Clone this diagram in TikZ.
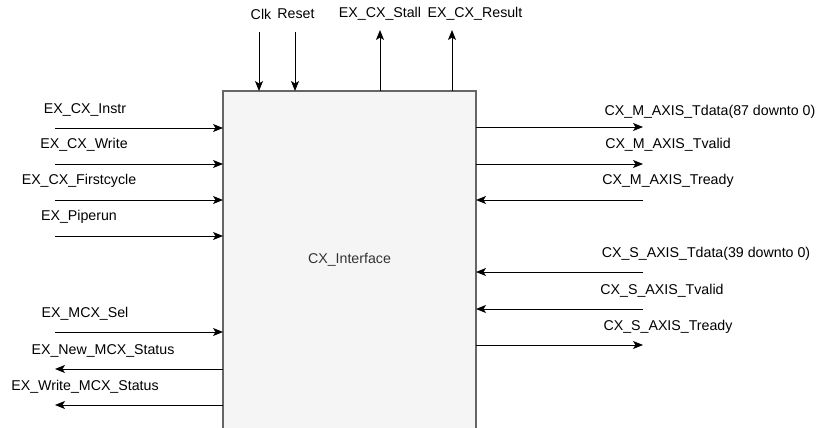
\documentclass[tikz,border=0pt]{standalone}
\usepackage{fontspec}
\setmainfont{Liberation Sans}
\usetikzlibrary{arrows.meta}
\definecolor{boxfill}{HTML}{F5F5F5}
\definecolor{boxline}{HTML}{666666}
\definecolor{boxtext}{HTML}{333333}
\begin{document}
\begin{tikzpicture}[x=1pt,y=-1pt,
  sig/.style={line width=1pt,-{Stealth[length=10pt,width=8pt,inset=2.5pt]}},
  lbl/.style={inner sep=0pt,font=\fontsize{14.2}{17}\selectfont},
  block/.style={draw=boxline,fill=boxfill,line width=1.2pt,inner sep=0pt}]
\useasboundingbox (0,0) rectangle (819,428);
\clip (0,0) rectangle (819,428);
% block
\path[block] (223,91) rectangle (476,440);
\coordinate (cxNW) at (223,91);
\coordinate (cxNE) at (476,91);
\node[lbl,text=boxtext] (cxlbl) at (349.5,260) {CX\_Interface};
% top
\coordinate (clkT) at (259,32);
\coordinate (rstT) at (295,32);
\coordinate (stlB) at (380,91);
\coordinate (resB) at (452,91);
\coordinate (stlT) at (380,30);
\coordinate (resT) at (452,30);
\draw[sig] (clkT) -- (clkT |- cxNW);
\draw[sig] (rstT) -- (rstT |- cxNW);
\draw[sig] (stlB) -- (stlT);
\draw[sig] (resB) -- (resT);
\node[lbl] (clk) at (261,14) {Clk};
\node[lbl] (rst) at (296,14) {Reset};
\node[lbl] (stl) at (380,14) {EX\_CX\_Stall};
\node[lbl] (res) at (475,14) {EX\_CX\_Result};
% left side
\foreach \n/\y in {instr/128, write/164, first/200, pipe/236, sel/332}{
  \coordinate (\n L) at (55,\y);
  \coordinate (\n R) at (223,\y);
  \draw[sig] (\n L) -- (\n R);
}
\foreach \n/\y in {newst/369, wrst/405}{
  \coordinate (\n L) at (55,\y);
  \coordinate (\n R) at (223,\y);
  \draw[sig] (\n R) -- (\n L);
}
\node[lbl] (linstr) at (85,110) {EX\_CX\_Instr};
\node[lbl] (lwrite) at (84,145) {EX\_CX\_Write};
\node[lbl] (lfirst) at (79,181) {EX\_CX\_Firstcycle};
\node[lbl] (lpipe) at (79,217) {EX\_Piperun};
\node[lbl] (lsel) at (85,314) {EX\_MCX\_Sel};
\node[lbl] (lnew) at (103,351) {EX\_New\_MCX\_Status};
\node[lbl] (lwr) at (85,387) {EX\_Write\_MCX\_Status};
% right side
\foreach \n/\y in {mdata/127, mvalid/164, sready/345}{
  \coordinate (\n L) at (476,\y);
  \coordinate (\n R) at (643,\y);
  \draw[sig] (\n L) -- (\n R);
}
\foreach \n/\y in {mready/200, sdata/272, svalid/309}{
  \coordinate (\n L) at (476,\y);
  \coordinate (\n R) at (643,\y);
  \draw[sig] (\n R) -- (\n L);
}
\node[lbl] (rmdata) at (710,112) {CX\_M\_AXIS\_Tdata(87 downto 0)};
\node[lbl] (rmvalid) at (668,145) {CX\_M\_AXIS\_Tvalid};
\node[lbl] (rmready) at (668,181) {CX\_M\_AXIS\_Tready};
\node[lbl] (rsdata) at (706,254) {CX\_S\_AXIS\_Tdata(39 downto 0)};
\node[lbl] (rsvalid) at (662,291) {CX\_S\_AXIS\_Tvalid};
\node[lbl] (rsready) at (668,327) {CX\_S\_AXIS\_Tready};
\end{tikzpicture}
\end{document}
